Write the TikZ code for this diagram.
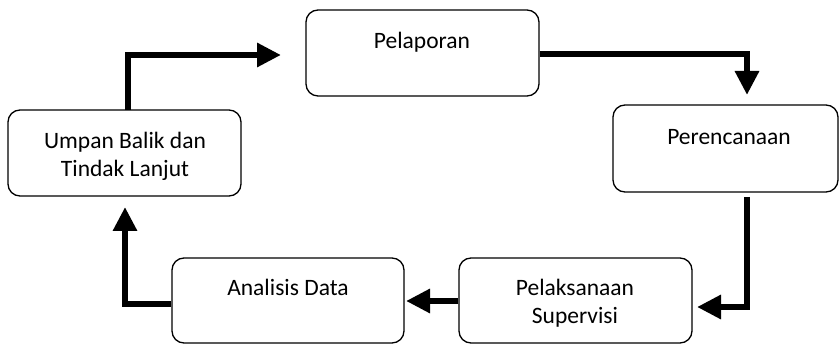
\documentclass[tikz,border=0pt]{standalone}
\usepackage{fontspec}
\setmainfont{Carlito}
\usetikzlibrary{arrows.meta}
\begin{document}
\begin{tikzpicture}[x=1pt,y=-1pt,
  box/.style={draw,line width=1.3pt,rounded corners=12pt,inner sep=0pt},
  lbl/.style={anchor=base,inner sep=0pt,font=\fontsize{23.5}{28}\selectfont},
  flow/.style={line width=6.3pt,-{Triangle[length=24pt,width=23pt]}}]
\useasboundingbox (0,0) rectangle (839,344);
% boxes
\node[box,minimum width=233pt,minimum height=86pt] (pel) at (422.5,53) {};
\node[box,minimum width=225pt,minimum height=87pt] (per) at (725.5,148.5) {};
\node[box,minimum width=233pt,minimum height=85pt] (pks) at (575.5,300.5) {};
\node[box,minimum width=232pt,minimum height=85pt] (ana) at (288,300.5) {};
\node[box,minimum width=233pt,minimum height=86pt] (ub) at (124.5,153) {};
% texts
\node[lbl] (tpel) at (422,49) {Pelaporan};
\node[lbl] (tper) at (729,145) {Perencanaan};
\node[lbl] (tpks1) at (575,296) {Pelaksanaan};
\node[lbl] (tpks2) at (575,324) {Supervisi};
\node[lbl] (tana) at (288,296) {Analisis Data};
\node[lbl] (tub1) at (125,149) {Umpan Balik dan};
\node[lbl] (tub2) at (125,177) {Tindak Lanjut};
% connector points
\coordinate (a1s) at (128,110);
\coordinate (a1e) at (281,55);
\coordinate (a2e) at (747,95);
\coordinate (a3s) at (747,197);
\coordinate (a3e) at (697,307);
\coordinate (a4e) at (406,301);
\coordinate (a5e) at (125,207);
% connectors
\draw[flow] (a1s) |- (a1e);
\draw[flow] (pel.east |- 0,54) -| (a2e);
\draw[flow] (a3s) |- (a3e);
\draw[flow] (pks.west |- 0,301) -- (a4e);
\draw[flow] (ana.west |- 0,304) -| (a5e);
\end{tikzpicture}
\end{document}
